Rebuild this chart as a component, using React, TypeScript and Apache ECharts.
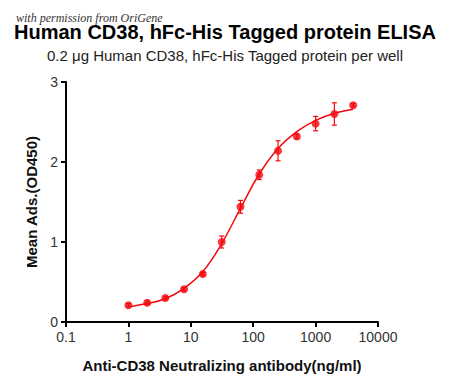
import React, { useEffect, useRef } from "react";
import * as echarts from "echarts";

const concentrations = [1, 2, 3.9, 7.8, 15.6, 31.25, 62.5, 125, 250, 500, 1000, 2000, 4000];
const meanOD = [0.21, 0.24, 0.3, 0.41, 0.6, 1.0, 1.44, 1.84, 2.14, 2.32, 2.48, 2.6, 2.71];
const errorOD = [0.02, 0.02, 0.02, 0.02, 0.02, 0.075, 0.08, 0.06, 0.125, 0.03, 0.09, 0.14, 0.02];
const fitX = [1, 2, 3.9, 7.8, 15.6, 31.25, 62.5, 125, 250, 500, 1000, 2000, 4000];
const fitY = [0.19, 0.23, 0.29, 0.42, 0.63, 0.98, 1.42, 1.85, 2.17, 2.38, 2.52, 2.61, 2.66];
const xTicks = [0.1, 1, 10, 100, 1000, 10000];
const yTicks = [0, 1, 2, 3];

const RED = "#f5080c";
const FONT = "Arial, 'Liberation Sans', sans-serif";

export default function App() {
  const ref = useRef<HTMLDivElement>(null);
  useEffect(() => {
    if (!ref.current) return;
    const chart = echarts.init(ref.current, null, { renderer: "svg" });
    const points = concentrations.map((c, i) => [c, meanOD[i]]);
    const errs = concentrations.map((c, i) => [c, meanOD[i] - errorOD[i], meanOD[i] + errorOD[i]]);
    const fit = fitX.map((c, i) => [c, fitY[i]]);
    chart.setOption({
      animation: false,
      backgroundColor: "#ffffff",
      title: [
        {
          text: "Human CD38, hFc-His Tagged protein ELISA",
          left: "center",
          top: 17,
          textStyle: { fontFamily: FONT, fontSize: 20, fontWeight: "bold", color: "#000" },
        },
        {
          text: "0.2 μg Human CD38, hFc-His Tagged protein per well",
          left: "center",
          top: 43,
          textStyle: { fontFamily: FONT, fontSize: 15, fontWeight: "normal", color: "#222" },
        },
        {
          text: "with permission from OriGene",
          left: 11,
          top: 7,
          textStyle: {
            fontFamily: "'Liberation Serif', 'DejaVu Serif', serif",
            fontStyle: "italic",
            fontSize: 12,
            fontWeight: "normal",
            color: "#333",
          },
        },
      ],
      grid: { left: 66, right: 72, top: 82, bottom: 68 },
      xAxis: {
        type: "log",
        logBase: 10,
        min: xTicks[0],
        max: xTicks[xTicks.length - 1],
        name: "Anti-CD38 Neutralizing antibody(ng/ml)",
        nameLocation: "middle",
        nameGap: 36,
        nameTextStyle: { fontFamily: FONT, fontSize: 15, fontWeight: "bold", color: "#111" },
        axisLine: { lineStyle: { color: "#000", width: 2 } },
        axisTick: { inside: false, length: 5, lineStyle: { color: "#000", width: 2 } },
        axisLabel: {
          fontFamily: FONT,
          fontSize: 14,
          color: "#333",
          margin: 8,
          formatter: (v: number) => String(v),
        },
        splitLine: { show: false },
        minorTick: { show: false },
      },
      yAxis: {
        type: "value",
        min: yTicks[0],
        max: yTicks[yTicks.length - 1],
        interval: 1,
        name: "Mean Ads.(OD450)",
        nameLocation: "middle",
        nameGap: 25,
        nameTextStyle: { fontFamily: FONT, fontSize: 15, fontWeight: "bold", color: "#111" },
        axisLine: { show: true, lineStyle: { color: "#000", width: 2 } },
        axisTick: { show: true, length: 5, lineStyle: { color: "#000", width: 2 } },
        axisLabel: { fontFamily: FONT, fontSize: 14, color: "#333", margin: 8 },
        splitLine: { show: false },
      },
      series: [
        {
          type: "line",
          data: fit,
          smooth: 0.4,
          showSymbol: false,
          symbol: "none",
          lineStyle: { color: RED, width: 1.5 },
          z: 2,
        },
        {
          type: "custom",
          data: errs,
          renderItem: (params: any, api: any) => {
            const x = api.value(0);
            const lo = api.coord([x, api.value(1)]);
            const hi = api.coord([x, api.value(2)]);
            const cap = 2.5;
            const style = { stroke: RED, lineWidth: 1.2 };
            return {
              type: "group",
              children: [
                { type: "line", shape: { x1: lo[0], y1: lo[1], x2: hi[0], y2: hi[1] }, style },
                { type: "line", shape: { x1: lo[0] - cap, y1: lo[1], x2: lo[0] + cap, y2: lo[1] }, style },
                { type: "line", shape: { x1: hi[0] - cap, y1: hi[1], x2: hi[0] + cap, y2: hi[1] }, style },
              ],
            };
          },
          z: 3,
        },
        {
          type: "scatter",
          data: points,
          symbol: "circle",
          symbolSize: 8,
          itemStyle: { color: RED },
          z: 4,
        },
      ],
    });
    return () => chart.dispose();
  }, []);
  return <div ref={ref} style={{ width: 450, height: 390, margin: -8 }} />;
}
